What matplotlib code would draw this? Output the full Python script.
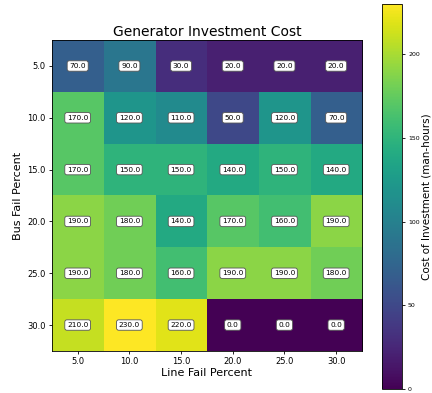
import numpy as np
import matplotlib
matplotlib.use("Agg")
import matplotlib.pyplot as plt

line_fail = [5.0, 10.0, 15.0, 20.0, 25.0, 30.0]
bus_fail = [5.0, 10.0, 15.0, 20.0, 25.0, 30.0]
cost = np.array([
    [70, 90, 30, 20, 20, 20],
    [170, 120, 110, 50, 120, 70],
    [170, 150, 150, 140, 150, 140],
    [190, 180, 140, 170, 160, 190],
    [190, 180, 160, 190, 190, 180],
    [210, 230, 220, 0, 0, 0],
], dtype=float)

fig = plt.figure(figsize=(4.32, 3.93), dpi=100)
ax = fig.add_axes([0.120, 0.107, 0.718, 0.791])
cax = fig.add_axes([0.884, 0.010, 0.046, 0.980])

im = ax.imshow(cost, cmap="viridis", aspect="auto", vmin=0, vmax=cost.max())
ax.set_xticks(range(len(line_fail)))
ax.set_xticklabels([f"{v:.1f}" for v in line_fail], fontsize=6)
ax.set_yticks(range(len(bus_fail)))
ax.set_yticklabels([f"{v:.1f}" for v in bus_fail], fontsize=6)
ax.set_xlabel("Line Fail Percent", fontsize=8, labelpad=1)
ax.set_ylabel("Bus Fail Percent", fontsize=8, labelpad=3)
ax.set_title("Generator Investment Cost", fontsize=10, pad=3)
ax.tick_params(length=2.5, width=0.6, pad=2)
for s in ax.spines.values():
    s.set_linewidth(0.6)

for i in range(cost.shape[0]):
    for j in range(cost.shape[1]):
        ax.text(j, i, f"{cost[i, j]:.1f}", ha="center", va="center", fontsize=5.3,
                bbox=dict(boxstyle="round,pad=0.3", fc="white", ec="#555555", lw=0.6))

cb = fig.colorbar(im, cax=cax)
cb.set_label("Cost of Investment (man-hours)", fontsize=7.5, labelpad=1)
cb.set_ticks([0, 50, 100, 150, 200])
cb.ax.tick_params(labelsize=4.5, length=2.5, width=0.6, pad=2)
cb.outline.set_linewidth(0.6)

fig.savefig("out.png", dpi=100)
